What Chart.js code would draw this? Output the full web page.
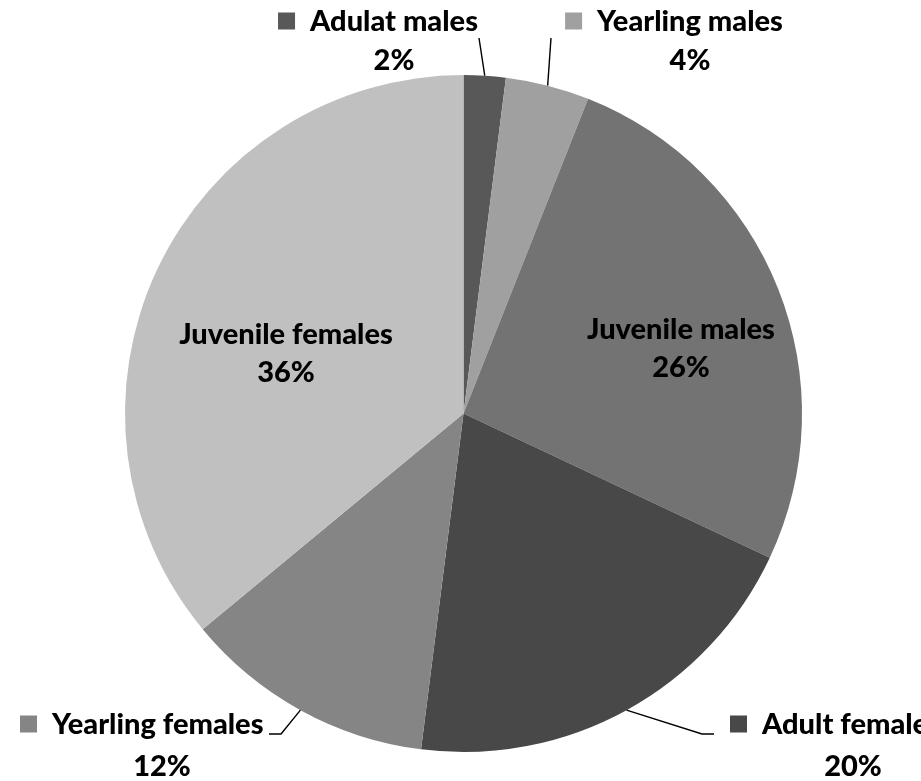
<!DOCTYPE html>
<html lang="en">
<head>
  <meta charset="UTF-8">
  <title>Population structure</title>
  <script src="https://cdn.jsdelivr.net/npm/chart.js"></script>
  <style>
    html, body {
      margin: 0;
      padding: 0;
      background: #ffffff;
    }
    #wrap {
      width: 921px;
      height: 781px;
    }
  </style>
</head>
<body>
  <div id="wrap"><canvas id="pieChart" width="921" height="781"></canvas></div>

  <script>
    // Slices, clockwise from 12 o'clock
    const categories = ['Adulat males', 'Yearling males', 'Juvenile males', 'Adult females', 'Yearling females', 'Juvenile females'];
    const shares = [2, 4, 26, 20, 12, 36];
    const sliceColors = ['#585858', '#a0a0a0', '#737373', '#484848', '#858585', '#c0c0c0'];

    // Label placement: inside labels are centred, outside ones get a key square and a leader line
    const labelLayout = [
      { mode: 'top', x: 394, y: 22, pctY: 61, lineX: 479, lineY: 38 },
      { mode: 'top', x: 690, y: 22, pctY: 61, lineX: 551, lineY: 38 },
      { mode: 'inside', x: 681, y: 330, pctY: 368 },
      { mode: 'bottom', left: 762, y: 725, pctX: 853, pctY: 767, elbow: [702, 734], end: [714, 734] },
      { mode: 'bottom', left: 52, y: 725, pctX: 162, pctY: 767, elbow: [281, 734], end: [269, 734] },
      { mode: 'inside', x: 286, y: 335, pctY: 373 }
    ];

    const FONT = '900 29px Lato, "Open Sans", sans-serif';
    const KEY = 17;

    function drawKey(ctx, color, textLeft, y) {
      ctx.fillStyle = color;
      ctx.fillRect(textLeft - 32, y - KEY / 2 - 1, KEY, KEY);
      ctx.fillStyle = '#000000';
    }

    const labelPlugin = {
      id: 'sliceLabels',
      afterDraw(chart) {
        const ctx = chart.ctx;
        const arcs = chart.getDatasetMeta(0).data;
        ctx.save();
        ctx.font = FONT;
        ctx.fillStyle = '#000000';
        ctx.strokeStyle = '#000000';
        ctx.lineWidth = 1.4;
        ctx.textBaseline = 'middle';

        arcs.forEach((arc, i) => {
          const L = labelLayout[i];
          const p = arc.getProps(['x', 'y', 'startAngle', 'endAngle', 'outerRadius'], true);
          const mid = (p.startAngle + p.endAngle) / 2;
          const ex = p.x + Math.cos(mid) * p.outerRadius;
          const ey = p.y + Math.sin(mid) * p.outerRadius;
          const pct = shares[i] + '%';
          const name = categories[i];

          if (L.mode === 'inside') {
            ctx.textAlign = 'center';
            ctx.fillText(name, L.x, L.y);
            ctx.fillText(pct, L.x, L.pctY);
            return;
          }

          if (L.mode === 'top') {
            ctx.beginPath();
            ctx.moveTo(ex, ey);
            ctx.lineTo(L.lineX, L.lineY);
            ctx.stroke();
            const w = ctx.measureText(name).width;
            drawKey(ctx, sliceColors[i], L.x - w / 2, L.y);
            ctx.textAlign = 'center';
            ctx.fillText(name, L.x, L.y);
            ctx.fillText(pct, L.x, L.pctY);
            return;
          }

          // bottom labels hang off an elbowed leader
          ctx.beginPath();
          ctx.moveTo(ex, ey);
          ctx.lineTo(L.elbow[0], L.elbow[1]);
          ctx.lineTo(L.end[0], L.end[1]);
          ctx.stroke();
          drawKey(ctx, sliceColors[i], L.left, L.y);
          ctx.textAlign = 'left';
          ctx.fillText(name, L.left, L.y);
          ctx.textAlign = 'center';
          ctx.fillText(pct, L.pctX, L.pctY);
        });
        ctx.restore();
      }
    };

    new Chart(document.getElementById('pieChart'), {
      type: 'pie',
      data: {
        labels: categories,
        datasets: [{
          data: shares,
          backgroundColor: sliceColors,
          borderWidth: 0
        }]
      },
      options: {
        responsive: false,
        animation: false,
        layout: { padding: { top: 75, bottom: 29, left: 125, right: 119 } },
        plugins: {
          legend: { display: false },
          tooltip: { enabled: false }
        }
      },
      plugins: [labelPlugin]
    });
  </script>
</body>
</html>
